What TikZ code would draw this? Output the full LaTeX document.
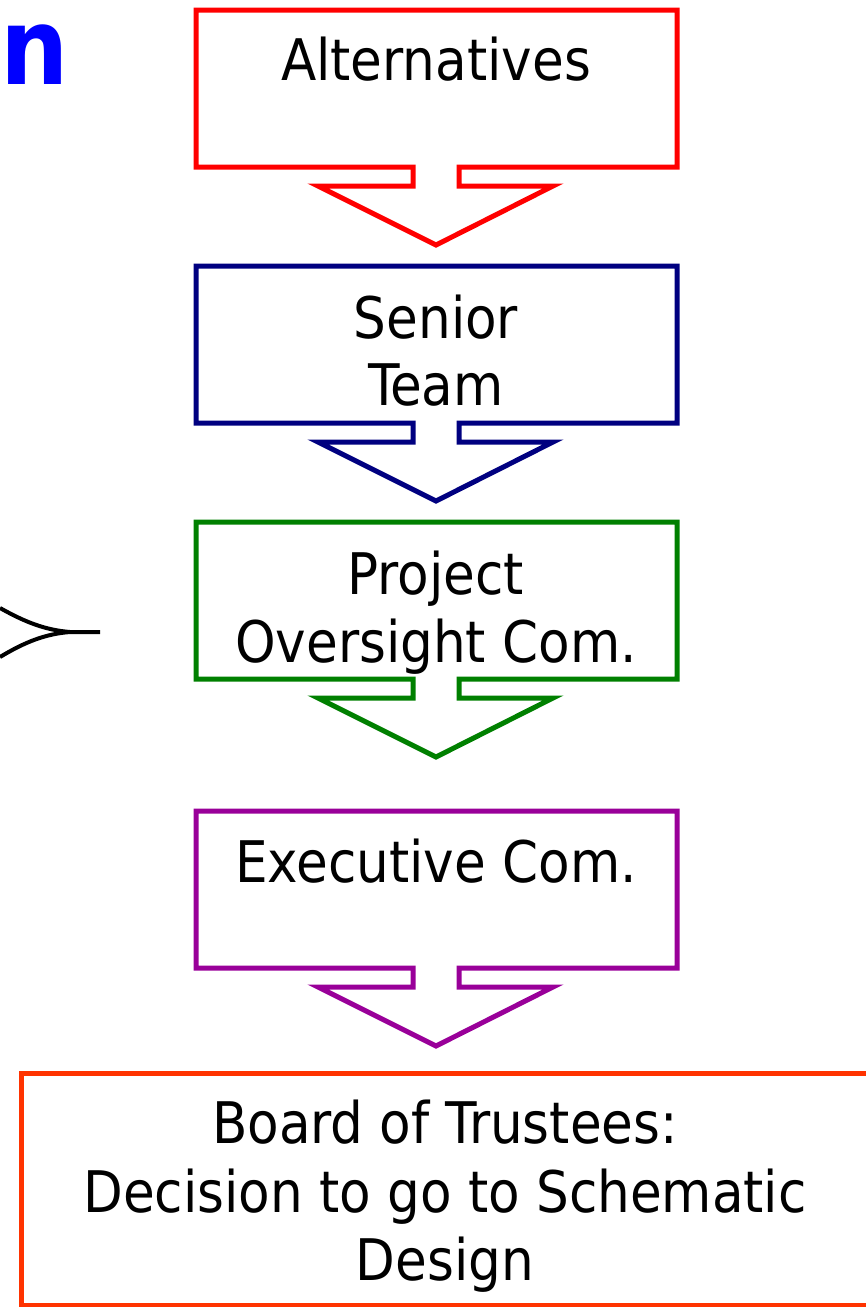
\documentclass[tikz,border=0pt]{standalone}
\usepackage{fontspec}
\setmainfont{DejaVu Sans Condensed}
\definecolor{cred}{HTML}{FF0000}
\definecolor{cnavy}{HTML}{000080}
\definecolor{cgreen}{HTML}{008000}
\definecolor{cpurple}{HTML}{990099}
\definecolor{corange}{HTML}{FF3300}
\definecolor{cblue}{HTML}{0000FF}
\newcommand\boxarrowshape[3]{%
  \draw[#1, line width=3.75pt, line join=miter]
    (413,#3) -- (196,#3) -- (196,#2) -- (677,#2) -- (677,#3) -- (459,#3)
    -- (459,#3+19) -- (553,#3+19) -- (436,#3+78) -- (318,#3+19) -- (413,#3+19) -- cycle;}
\tikzset{lbl/.style={font=\fontsize{43}{50}\selectfont, align=center, inner sep=0pt, text=black}}
\begin{document}
\begin{tikzpicture}[x=0.75pt, y=-0.75pt]
\useasboundingbox (0,0) rectangle (865,1307);
\boxarrowshape{cred}{10}{167}
\boxarrowshape{cnavy}{266}{423}
\boxarrowshape{cgreen}{522}{679}
\boxarrowshape{cpurple}{811}{968}
\draw[corange, line width=3.75pt] (21,1305) -- (21,1073) -- (900,1073) -- (900,1305) -- cycle;
\node[lbl, anchor=base] (alt) at (436,80) {Alternatives};
\node[lbl, anchor=base] (sen1) at (436,338) {Senior};
\node[lbl, anchor=base] (sen2) at (436,405) {Team};
\node[lbl, anchor=base] (poc1) at (436,594) {Project};
\node[lbl, anchor=base] (poc2) at (436,662) {Oversight Com.};
\node[lbl, anchor=base] (exe) at (436,882) {Executive Com.};
\node[lbl, anchor=base] (bt1) at (445,1143) {Board of Trustees:};
\node[lbl, anchor=base] (bt2) at (445,1212) {Decision to go to Schematic};
\node[lbl, anchor=base] (bt3) at (445,1280) {Design};
\node[font=\fontsize{80}{84}\selectfont\bfseries, text=cblue, anchor=base west, inner sep=0pt] (ttl) at (0,84) {n};
\coordinate (tip) at (70,632);
\draw[black, line width=3pt] (0,608) .. controls (25,622) and (45,630) .. (tip)
  (0,657) .. controls (25,642) and (45,634) .. (tip) -- (100,632);
\end{tikzpicture}
\end{document}
